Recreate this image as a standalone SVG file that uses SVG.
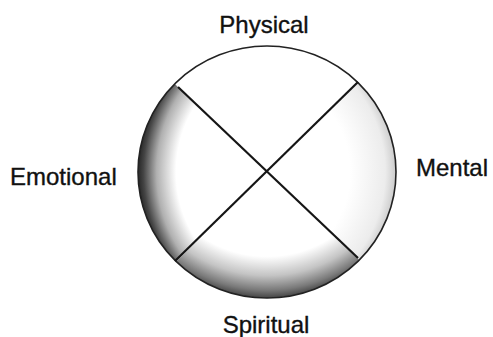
<svg xmlns="http://www.w3.org/2000/svg" width="493" height="337" viewBox="0 0 493 337">
<style>
  .lbl{font-family:"Liberation Sans",Arial,sans-serif;font-size:24px;fill:#111;stroke:#111;stroke-width:0.35;}
  .div{stroke:#151515;stroke-width:2.2;fill:none;}
</style>
<defs>
  <radialGradient id="gLeft" gradientUnits="userSpaceOnUse" cx="300" cy="172" r="163">
    <stop offset="0.76" stop-color="#fff"/>
    <stop offset="0.88" stop-color="#b0b0b0"/>
    <stop offset="0.96" stop-color="#454545"/>
    <stop offset="1" stop-color="#222"/>
  </radialGradient>
  <radialGradient id="gBottom" gradientUnits="userSpaceOnUse" cx="267" cy="138" r="160">
    <stop offset="0.74" stop-color="#fff"/>
    <stop offset="0.86" stop-color="#c4c4c4"/>
    <stop offset="0.95" stop-color="#7a7a7a"/>
    <stop offset="1" stop-color="#444"/>
  </radialGradient>
  <radialGradient id="gRight" gradientUnits="userSpaceOnUse" cx="250" cy="172" r="147">
    <stop offset="0.68" stop-color="#fff"/>
    <stop offset="0.92" stop-color="#ececec"/>
    <stop offset="1" stop-color="#c8c8c8"/>
  </radialGradient>
  <clipPath id="cLeft"><path d="M266,172 L150,60 L100,172 L148,290 Z"/></clipPath>
  <clipPath id="cBottom"><path d="M266,172 L148,290 L267,320 L385,284 Z"/></clipPath>
  <clipPath id="cRight"><path d="M266,172 L385,284 L420,172 L385,55 Z"/></clipPath>
</defs>
<g id="wheel">
  <ellipse cx="267" cy="172" rx="129" ry="126" fill="#fff"/>
  <ellipse cx="267" cy="172" rx="129" ry="126" fill="url(#gLeft)" clip-path="url(#cLeft)"/>
  <ellipse cx="267" cy="172" rx="129" ry="126" fill="url(#gBottom)" clip-path="url(#cBottom)"/>
  <ellipse cx="267" cy="172" rx="129" ry="126" fill="url(#gRight)" clip-path="url(#cRight)"/>
  <ellipse cx="267" cy="172" rx="129" ry="126" fill="none" stroke="#222" stroke-width="1.6"/>
</g>
<g id="connectors">
  <line class="div" x1="178" y1="87" x2="358" y2="258"/>
  <line class="div" x1="358" y1="82" x2="175" y2="261"/>
</g>
<g id="physical"><text class="lbl" x="264" y="33" text-anchor="middle">Physical</text></g>
<g id="emotional"><text class="lbl" x="10" y="185">Emotional</text></g>
<g id="mental"><text class="lbl" x="416" y="176">Mental</text></g>
<g id="spiritual"><text class="lbl" x="266" y="333" text-anchor="middle">Spiritual</text></g>
</svg>
